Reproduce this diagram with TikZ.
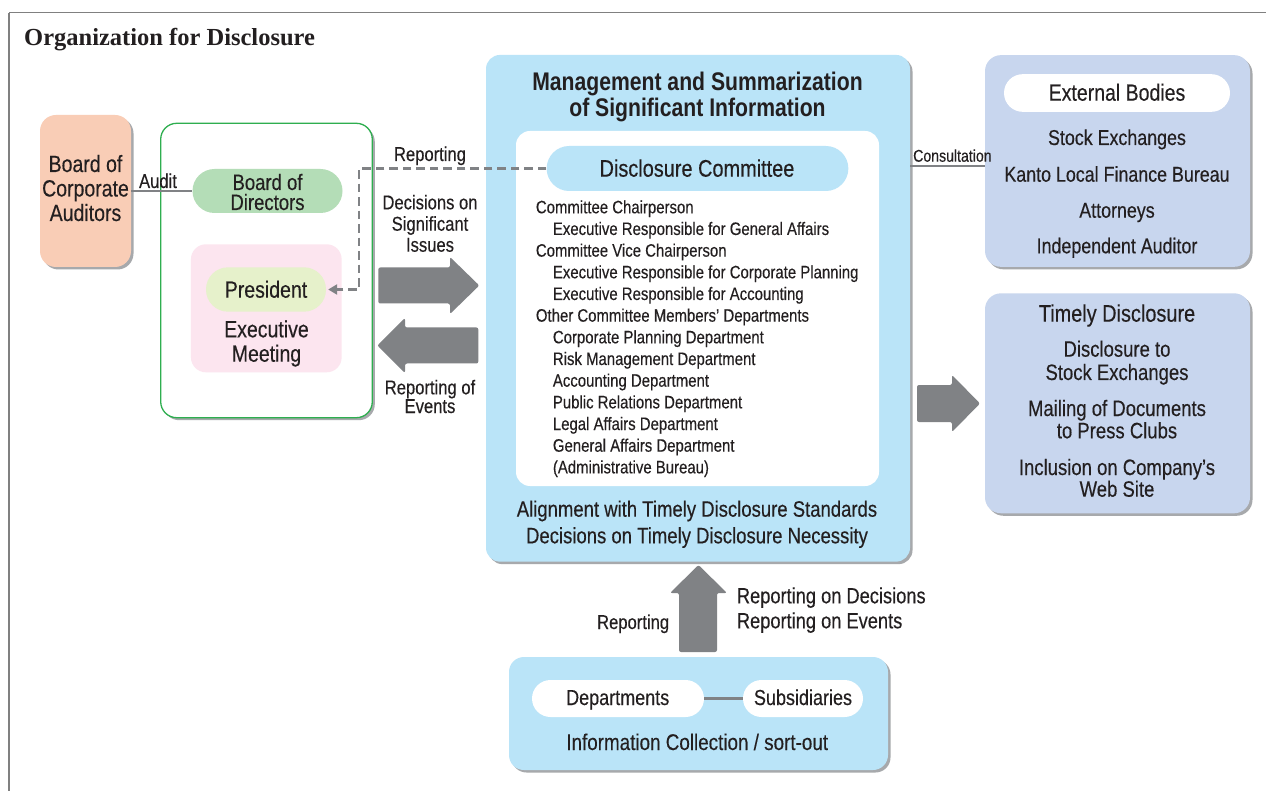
\documentclass[tikz,border=0pt]{standalone}
\usepackage{fontspec}
\setmainfont{Liberation Sans}[FakeStretch=0.83, UprightFeatures={FakeBold=0.3}]
\newfontfamily\titlefont{Liberation Serif}
\usetikzlibrary{shadows,arrows.meta}
\definecolor{txtc}{HTML}{231F20}
\definecolor{audc}{HTML}{F9CDB6}
\definecolor{bodc}{HTML}{B4DDB7}
\definecolor{grnc}{HTML}{2EAE4F}
\definecolor{pinkc}{HTML}{FCE5EF}
\definecolor{presc}{HTML}{E6F1CB}
\definecolor{bluc}{HTML}{BAE4F8}
\definecolor{extc}{HTML}{C8D6EE}
\definecolor{arrc}{HTML}{808285}
\definecolor{shadc}{HTML}{A7A9AC}
\definecolor{linec}{HTML}{808285}
\definecolor{framec}{HTML}{808080}
\newcommand\mytxt[6][base]{\node[lbl,anchor=#1,font=\fontsize{#5}{#5}\selectfont] (#2) at (#3,#4) {#6};}
\begin{document}
\begin{tikzpicture}[x=1pt,y=-1pt,
  lbl/.style={inner sep=0pt, text=txtc},
  box/.style={rectangle, inner sep=0pt, draw=none},
  shad/.style={general shadow={fill=shadc, shadow xshift=2.5pt, shadow yshift=-2.5pt}},
  bigarrow/.style={fill=arrc, rounded corners=2pt},
  conn/.style={draw=linec, line width=2.3pt},
  dashconn/.style={draw=linec, line width=2.2pt, dash pattern=on 8.5pt off 5pt}]
\fill[white] (0,0) rectangle (1266,791);
\useasboundingbox (0,0) rectangle (1266,791);
% frame
\draw[framec, line width=1pt] (1266,13) -- (8.5,13);
\draw[framec, line width=2pt] (8.5,13) -- (8.5,791);
\node[lbl, anchor=base west, font=\titlefont\bfseries\fontsize{24.5}{24.5}\selectfont] (title) at (24,46) {Organization for Disclosure};

% left boxes
\node[box, shad, fill=audc, minimum width=91pt, minimum height=152pt, rounded corners=16pt] (aud) at (85.5,191) {};
\node[box, shad, fill=white, draw=grnc, line width=1.3pt, minimum width=211.6pt, minimum height=294.4pt, rounded corners=16pt] (grn) at (266.5,270.5) {};
\node[box, fill=bodc, minimum width=150pt, minimum height=44pt, rounded corners=22pt] (bod) at (267.5,191) {};
\node[box, fill=pinkc, minimum width=150.7pt, minimum height=128pt, rounded corners=15pt] (pink) at (266.3,308.3) {};
\node[box, fill=presc, minimum width=120pt, minimum height=44.4pt, rounded corners=22pt] (pres) at (266,289.5) {};

% main box
\node[box, shad, fill=bluc, minimum width=424pt, minimum height=506.7pt, rounded corners=14pt] (main) at (698,308.3) {};
\node[box, fill=white, minimum width=363pt, minimum height=355pt, rounded corners=14pt] (inner) at (697.5,308.5) {};
\node[box, fill=bluc, minimum width=301.7pt, minimum height=45pt, rounded corners=22.5pt] (dc) at (697.5,168.5) {};

% right boxes
\node[box, shad, fill=extc, minimum width=265pt, minimum height=211.7pt, rounded corners=16pt] (ext) at (1117.5,161) {};
\node[box, fill=white, minimum width=226pt, minimum height=37.7pt, rounded corners=18.8pt] (extp) at (1117,93) {};
\node[box, shad, fill=extc, minimum width=265pt, minimum height=220pt, rounded corners=16pt] (tim) at (1117.5,403.3) {};

% bottom box
\node[box, shad, fill=bluc, minimum width=379pt, minimum height=113pt, rounded corners=15pt] (bot) at (698.5,713.5) {};
\node[box, fill=white, minimum width=172pt, minimum height=37pt, rounded corners=18.5pt] (dep) at (618,698.5) {};
\node[box, fill=white, minimum width=120pt, minimum height=37pt, rounded corners=18.5pt] (sub) at (803,698.5) {};

% connectors
\draw[conn] (aud.east |- bod.west) -- (bod.west);
\coordinate (cy) at (0,166);
\draw[conn] (main.east |- cy) -- (ext.west |- cy);
\draw[conn] (dep.east) -- (sub.west);
\draw[dashconn, -{Triangle[length=9pt,width=10pt]}] (dc.west) -| ([xshift=33pt]pres.east) -- ([xshift=2pt]pres.east);

% big arrows
\fill[bigarrow] (378.3,267.5) -- (450,267.5) -- (450,257) -- (479.3,285.5) -- (450,314) -- (450,303.5) -- (378.3,303.5) -- cycle;
\fill[bigarrow] (478.3,327.5) -- (405,327.5) -- (405,318) -- (377.3,345.5) -- (405,373) -- (405,363.5) -- (478.3,363.5) -- cycle;
\fill[bigarrow] (917,385) -- (952,385) -- (952,375) -- (980,403.5) -- (952,432) -- (952,422) -- (917,422) -- cycle;
\fill[bigarrow] (679,652) -- (679,593) -- (670,593) -- (698.5,565) -- (727,593) -- (717,593) -- (717,652) -- cycle;

% texts: left
\mytxt{aud1}{85.5}{172}{23.5}{Board of}
\mytxt{aud2}{85.5}{196.5}{23.5}{Corporate}
\mytxt{aud3}{85.5}{221}{23.5}{Auditors}
\mytxt{audit}{158}{188}{20}{Audit}
\mytxt{bod1}{267.5}{190}{22.3}{Board of}
\mytxt{bod2}{267.5}{210}{22.3}{Directors}
\mytxt{prest}{266}{297.7}{23.5}{President}
\mytxt{exm1}{266.5}{337.3}{23.5}{Executive}
\mytxt{exm2}{266.5}{361.7}{23.5}{Meeting}
\mytxt{rep}{430}{161}{20}{Reporting}
\mytxt{dec1}{430}{209.3}{20}{Decisions on}
\mytxt{dec2}{430}{230.7}{20}{Significant}
\mytxt{dec3}{430}{251.7}{20}{Issues}
\mytxt{roe1}{430}{394.3}{20}{Reporting of}
\mytxt{roe2}{430}{413}{20}{Events}

% texts: main
\node[lbl, anchor=base, font=\bfseries\fontsize{25.5}{25.5}\selectfont] (mt1) at (697.5,90.7) {Management and Summarization};
\node[lbl, anchor=base, font=\bfseries\fontsize{25.5}{25.5}\selectfont] (mt2) at (697.5,116.7) {of Significant Information};
\mytxt{dct}{697}{176.7}{24}{Disclosure Committee}
\foreach \i/\ind/\s in {0/0/Committee Chairperson,
  1/1/Executive Responsible for General Affairs,
  2/0/Committee Vice Chairperson,
  3/1/Executive Responsible for Corporate Planning,
  4/1/Executive Responsible for Accounting,
  5/0/Other Committee Members’ Departments,
  6/1/Corporate Planning Department,
  7/1/Risk Management Department,
  8/1/Accounting Department,
  9/1/Public Relations Department,
  10/1/Legal Affairs Department,
  11/1/General Affairs Department,
  12/1/(Administrative Bureau)}
  {\node[lbl, anchor=base west, font=\fontsize{18}{18}\selectfont] (li\i) at (535.7+17*\ind, 213.3+21.67*\i) {\s};}
\mytxt{al1}{697}{516.7}{22.3}{Alignment with Timely Disclosure Standards}
\mytxt{al2}{697}{543.3}{22.3}{Decisions on Timely Disclosure Necessity}

% texts: right
\mytxt[base west]{cons}{913}{161.7}{17}{Consultation}
\mytxt{extt}{1117}{100.7}{23.5}{External Bodies}
\mytxt{ex1}{1117}{145}{21.5}{Stock Exchanges}
\mytxt{ex2}{1117}{181.7}{21.5}{Kanto Local Finance Bureau}
\mytxt{ex3}{1117}{217.7}{21.5}{Attorneys}
\mytxt{ex4}{1117}{253.3}{21.5}{Independent Auditor}
\mytxt{timt}{1117}{321.7}{24}{Timely Disclosure}
\mytxt{tm1}{1117}{356.7}{22.3}{Disclosure to}
\mytxt{tm2}{1117}{380}{22.3}{Stock Exchanges}
\mytxt{tm3}{1117}{416}{22.3}{Mailing of Documents}
\mytxt{tm4}{1117}{438.3}{22.3}{to Press Clubs}
\mytxt{tm5}{1117}{475}{22.3}{Inclusion on Company’s}
\mytxt{tm6}{1117}{496.7}{22.3}{Web Site}

% texts: bottom
\mytxt[base west]{rd1}{736.7}{603.3}{22}{Reporting on Decisions}
\mytxt[base west]{rd2}{736.7}{628.3}{22}{Reporting on Events}
\mytxt[base east]{repl}{669.3}{629}{20}{Reporting}
\mytxt{dept}{617.7}{705}{21.7}{Departments}
\mytxt{subt}{803}{705}{21.7}{Subsidiaries}
\mytxt{info}{697.2}{750}{22.7}{Information Collection / sort-out}
\end{tikzpicture}
\end{document}
